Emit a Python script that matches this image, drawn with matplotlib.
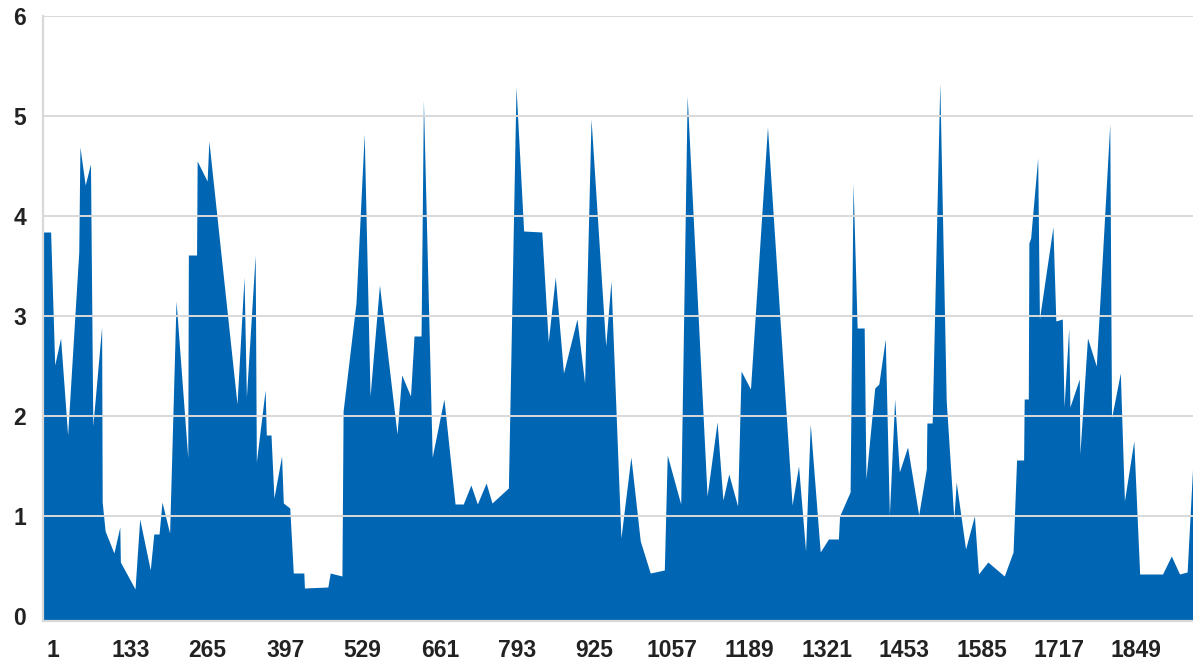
import matplotlib
matplotlib.use("Agg")
import matplotlib.pyplot as plt
import matplotlib.transforms as mtransforms

# ---- data (breakpoints of the series: category index, value) ----
idx = [1, 14, 21, 31, 43, 62, 64, 73, 82, 86, 101, 102, 107, 122, 132, 133, 158, 166,
       184, 190, 199, 204, 217, 228, 248, 249, 263, 264, 281, 284, 332, 344, 348, 363,
       365, 380, 382, 390, 395, 408, 411, 422, 428, 446, 447, 487, 491, 511, 513, 535,
       549, 559, 575, 605, 613, 628, 634, 646, 650, 665, 685, 704, 718, 731, 742, 757,
       767, 795, 808, 821, 852, 863, 875, 889, 912, 925, 936, 961, 970, 987, 1004, 1020,
       1037, 1061, 1066, 1089, 1100, 1134, 1151, 1161, 1171, 1186, 1192, 1208, 1237,
       1279, 1290, 1302, 1310, 1327, 1341, 1358, 1360, 1378, 1383, 1390, 1402, 1405,
       1420, 1427, 1438, 1445, 1454, 1462, 1476, 1495, 1508, 1509, 1518, 1531, 1542,
       1555, 1559, 1575, 1590, 1597, 1613, 1641, 1656, 1662, 1674, 1675, 1682, 1683,
       1686, 1698, 1701, 1724, 1729, 1740, 1743, 1751, 1753, 1769, 1770, 1783, 1798,
       1821, 1824, 1839, 1846, 1862, 1872, 1911, 1926, 1940, 1953, 1963]
values = [3.84, 3.84, 2.51, 2.78, 1.81, 3.64, 4.69, 4.31, 4.52, 1.90, 2.89, 1.14, 0.85,
          0.63, 0.89, 0.54, 0.27, 0.97, 0.46, 0.82, 0.82, 1.14, 0.83, 3.15, 1.58, 3.61,
          3.61, 4.55, 4.35, 4.75, 2.12, 3.39, 2.19, 3.61, 1.54, 2.26, 1.81, 1.81, 1.18,
          1.60, 1.13, 1.08, 0.43, 0.43, 0.28, 0.29, 0.43, 0.40, 2.05, 3.13, 4.82, 2.20,
          3.31, 1.82, 2.41, 2.20, 2.80, 2.80, 5.16, 1.59, 2.17, 1.12, 1.12, 1.31, 1.12,
          1.33, 1.13, 1.28, 5.29, 3.85, 3.84, 2.74, 3.39, 2.43, 2.97, 2.33, 4.97, 2.70,
          3.35, 0.78, 1.59, 0.75, 0.43, 0.46, 1.61, 1.12, 5.20, 1.20, 1.94, 1.16, 1.42,
          1.10, 2.45, 2.27, 4.89, 1.11, 1.50, 0.65, 1.92, 0.64, 0.77, 0.77, 1.00, 1.24,
          4.33, 2.88, 2.88, 1.37, 2.28, 2.32, 2.77, 1.01, 2.17, 1.44, 1.69, 1.01, 1.47,
          1.93, 1.93, 5.33, 2.15, 0.97, 1.34, 0.67, 1.00, 0.42, 0.54, 0.40, 0.64, 1.56,
          1.56, 2.17, 2.17, 3.73, 3.78, 4.58, 2.97, 3.89, 2.95, 2.97, 2.09, 2.88, 2.09,
          2.37, 1.62, 2.78, 2.50, 4.92, 1.98, 2.43, 1.15, 1.75, 0.42, 0.42, 0.60, 0.42,
          0.44, 1.56]
x_ticks = [1, 133, 265, 397, 529, 661, 793, 925, 1057, 1189, 1321, 1453, 1585, 1717, 1849]
y_ticks = [0, 1, 2, 3, 4, 5, 6]

n_categories = 1963
fill_color = "#0066b3"
grid_color = "#d9d9d9"
text_color = "#222222"

W, H = 1193, 661
fig = plt.figure(figsize=(W / 100, H / 100), dpi=100)
ax = fig.add_axes([43 / W, (H - 621) / H, 1150 / W, 605 / H])

ymin = -0.05
ax.fill_between(idx, values, ymin, color=fill_color, linewidth=0, zorder=2)

for v in y_ticks[1:]:
    ax.axhline(v, color=grid_color, linewidth=1.4, zorder=3)

ax.set_xlim(1, n_categories)
ax.set_ylim(ymin, 6)

for s in ["top", "right"]:
    ax.spines[s].set_visible(False)
for s in ["left", "bottom"]:
    ax.spines[s].set_color(grid_color)
    ax.spines[s].set_linewidth(1.6)
    ax.spines[s].set_zorder(4)

ax.set_xticks(x_ticks)
ax.set_xticklabels([str(t) for t in x_ticks])
ax.set_yticks(y_ticks)
ax.set_yticklabels([str(t) for t in y_ticks])
ax.tick_params(axis="both", length=0, colors=text_color)
ax.tick_params(axis="x", pad=13)
ax.tick_params(axis="y", pad=12)
for lab in ax.get_xticklabels() + ax.get_yticklabels():
    lab.set_fontfamily("Liberation Sans")
    lab.set_fontweight("bold")
    lab.set_fontsize(16.5)
    lab.set_color(text_color)

offset = mtransforms.ScaledTranslation(10 / 100, 0, fig.dpi_scale_trans)
for lab in ax.get_xticklabels():
    lab.set_transform(lab.get_transform() + offset)

fig.savefig("out.png", dpi=100)
